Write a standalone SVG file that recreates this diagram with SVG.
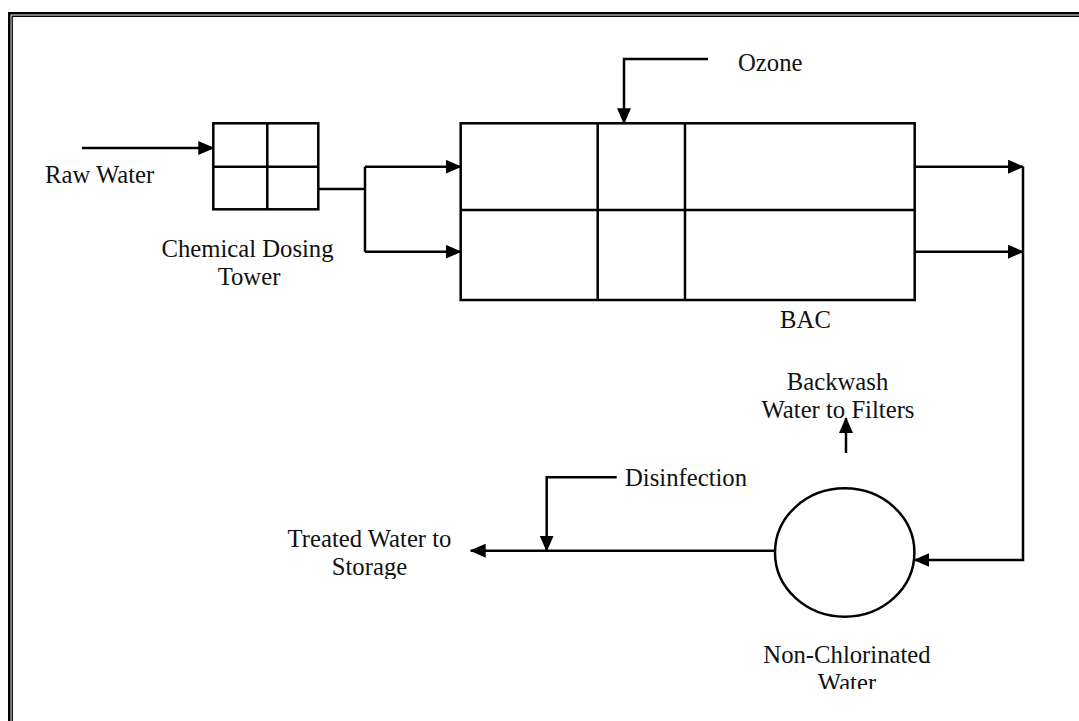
<svg xmlns="http://www.w3.org/2000/svg" width="1079" height="721" viewBox="0 0 1079 721">
<style>
.ln{fill:none;stroke:#000;stroke-width:2.5}
.bx{fill:none;stroke:#000;stroke-width:2.5}
text{font-family:"Liberation Serif","Times New Roman",serif;font-size:24.7px;fill:#111}
</style>
<defs>
<marker id="ah" viewBox="0 0 16 14" refX="15" refY="7" markerWidth="16" markerHeight="14" markerUnits="userSpaceOnUse" orient="auto">
<path d="M0,0 L16,7 L0,14 Z" fill="#000"/>
</marker>
<clipPath id="clipStorage"><rect x="0" y="0" width="1079" height="579"/></clipPath>
<clipPath id="clipWater"><rect x="0" y="0" width="1079" height="689"/></clipPath>
</defs>
<rect width="1079" height="721" fill="#fff"/>
<g id="border">
<path d="M9.3,721 V13.3 H1079" fill="none" stroke="#000" stroke-width="2.6"/>
<path d="M12.2,721 V16.3 H1079" fill="none" stroke="#000" stroke-width="1.4"/>
</g>
<g id="tower">
<rect class="bx" x="213.3" y="123.3" width="105" height="86"/>
<path class="ln" d="M267.3,123.3 V209.3 M213.3,166.7 H318.3"/>
<text x="247.5" y="256.5" text-anchor="middle">Chemical Dosing</text>
<text x="249" y="285" text-anchor="middle">Tower</text>
</g>
<g id="bac">
<rect class="bx" x="460.7" y="123.3" width="454" height="176.7"/>
<path class="ln" d="M597.7,123.3 V300 M685,123.3 V300 M460.7,210 H914.7"/>
<text x="805.5" y="328" text-anchor="middle">BAC</text>
</g>
<g id="tank">
<ellipse class="bx" cx="844.7" cy="552.5" rx="69.7" ry="64.2"/>
<text x="847" y="663" text-anchor="middle">Non-Chlorinated</text>
<text x="847" y="691" text-anchor="middle" clip-path="url(#clipWater)">Water</text>
</g>
<g id="labels">
<text x="45" y="183">Raw Water</text>
<text x="738" y="71">Ozone</text>
<text x="625" y="486">Disinfection</text>
<text x="837.5" y="390" text-anchor="middle">Backwash</text>
<text x="838" y="418.3" text-anchor="middle">Water to Filters</text>
<text x="369.5" y="546.7" text-anchor="middle">Treated Water to</text>
<text x="369.5" y="575" text-anchor="middle" clip-path="url(#clipStorage)">Storage</text>
</g>
<g id="connectors">
<path class="ln" d="M82,148 H213.3" marker-end="url(#ah)"/>
<path class="ln" d="M318.3,189 H365 M365,166.7 V251.7"/>
<path class="ln" d="M365,166.7 H460.7" marker-end="url(#ah)"/>
<path class="ln" d="M365,251.7 H460.7" marker-end="url(#ah)"/>
<path class="ln" d="M708,59 H624 V123.3" marker-end="url(#ah)"/>
<path class="ln" d="M914.7,166.7 H1023" marker-end="url(#ah)"/>
<path class="ln" d="M914.7,251.7 H1023" marker-end="url(#ah)"/>
<path class="ln" d="M1023,166.7 V560 H914.4" marker-end="url(#ah)"/>
<path class="ln" d="M846,453 V418" marker-end="url(#ah)"/>
<path class="ln" d="M775,550.7 H470.7" marker-end="url(#ah)"/>
<path class="ln" d="M616.7,477.3 H546.7 V550.7" marker-end="url(#ah)"/>
</g>
</svg>
